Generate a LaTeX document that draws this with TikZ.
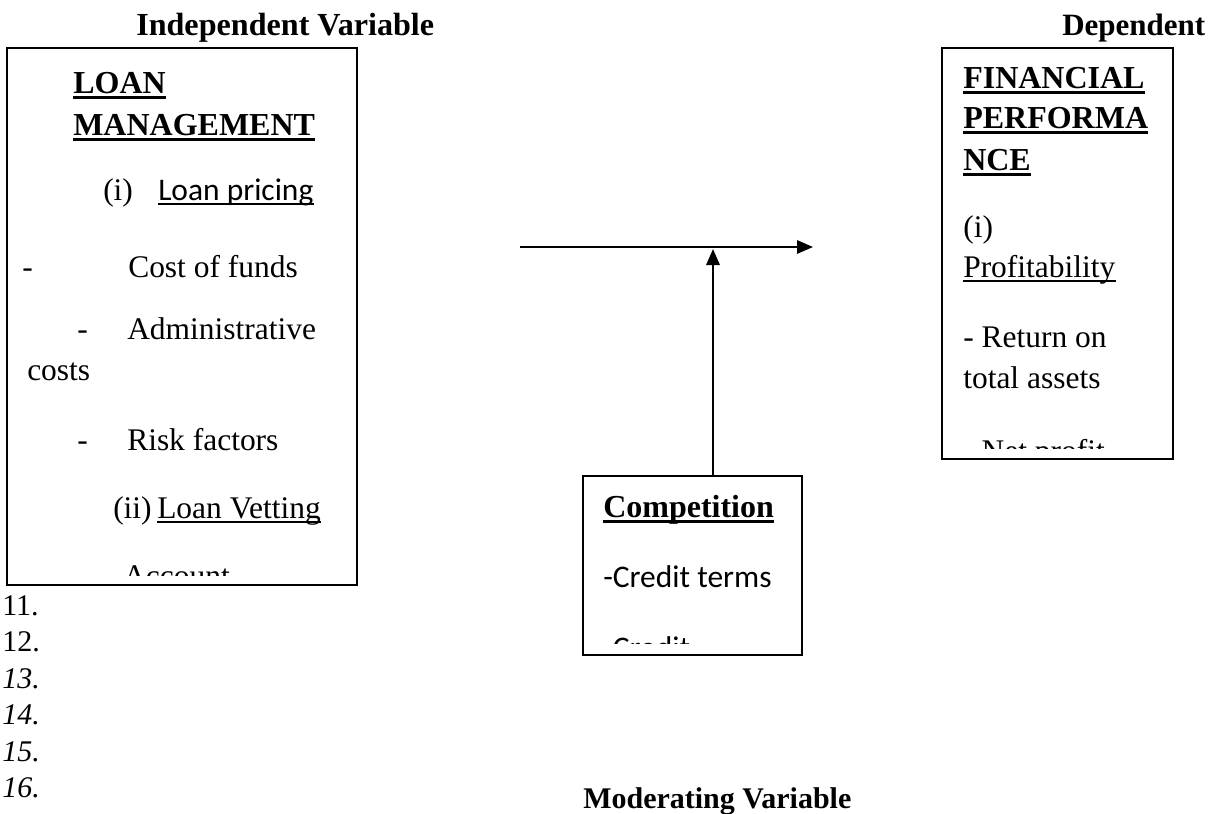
\documentclass[tikz,border=0pt]{standalone}
\usepackage{fontspec}
\setmainfont{Liberation Serif}
\newfontfamily\carl{Carlito}
\usetikzlibrary{arrows.meta,fit}
\tikzset{
  box/.style={draw, line width=1.5pt, inner sep=0pt},
  txt/.style={anchor=base west, inner sep=0pt, font=\fontsize{23.6}{28}\selectfont},
  btxt/.style={anchor=base west, inner sep=0pt, font=\fontsize{24}{28}\selectfont\bfseries},
  stxt/.style={anchor=base west, inner sep=0pt, font=\fontsize{23.6}{28}\selectfont\carl},
  ttl/.style={anchor=base west, inner sep=0pt, font=\fontsize{23.25}{28}\selectfont\bfseries},
  num/.style={anchor=base west, inner sep=0pt, font=\fontsize{22.5}{24}\selectfont},
  inum/.style={num, font=\fontsize{22.5}{24}\selectfont\itshape},
  ulb/.style={line width=2.2pt},
  uln/.style={line width=1.5pt},
  arr/.style={line width=1.5pt, -{Triangle[length=12pt,width=10pt]}},
}
\newcommand\ulb[1]{\draw[ulb] ([yshift=-3.2pt]#1.base west) -- ([yshift=-3.2pt]#1.base east);}
\newcommand\uln[1]{\draw[uln] ([yshift=-2.8pt]#1.base west) -- ([yshift=-2.8pt]#1.base east);}
\begin{document}
\begin{tikzpicture}[x=0.75pt,y=-0.75pt]
\useasboundingbox (0,0) rectangle (1218,814);

% titles
\node[ttl, font=\fontsize{24.1}{28}\selectfont\bfseries] (tind) at (136,35) {Independent Variable};
\node[ttl] (tdep) at (1062,35) {Dependent};
\node[ttl, font=\fontsize{22.5}{27}\selectfont\bfseries] (tmod) at (583,808) {Moderating Variable};

% boxes
\node[box, fit={(7,48)(357,585)}] (loan) {};
\node[box, fit={(942,48)(1173,459)}] (fin) {};
\node[box, fit={(583,476)(802,655)}] (comp) {};

% left box text
\begin{scope}
\clip (7,48) rectangle (357,575);
\node[btxt] (l1) at (73,93) {LOAN};
\node[btxt] (l2) at (73,135) {MANAGEMENT};
\node[txt] (l3a) at (103,200) {(i)};
\node[stxt] (l3b) at (158,200) {Loan pricing};
\node[txt] (l4a) at (22,277) {-};
\node[txt] (l4b) at (128,277) {Cost of funds};
\node[txt] (l5a) at (77,339) {-};
\node[txt] (l5b) at (127,339) {Administrative};
\node[txt] (l6) at (27,380) {costs};
\node[txt] (l7a) at (77,450) {-};
\node[txt] (l7b) at (127,450) {Risk factors};
\node[txt] (l8a) at (113,518) {(ii)};
\node[txt] (l8b) at (157,518) {Loan Vetting};
\node[txt] (l9) at (123,586) {Account};
\ulb{l1} \ulb{l2} \uln{l3b} \uln{l8b}
\end{scope}

% right box text
\begin{scope}
\clip (942,48) rectangle (1173,448);
\node[btxt] (r1) at (963,88) {FINANCIAL};
\node[btxt] (r2) at (963,128) {PERFORMA};
\node[btxt] (r3) at (963,170) {NCE};
\node[txt] (r4) at (963,237) {(i)};
\node[txt] (r5) at (963,277) {Profitability};
\node[txt] (r6) at (963,347) {- Return on};
\node[txt] (r7) at (963,388) {total assets};
\node[txt] (r8) at (963,461) {- Net profit};
\ulb{r1} \ulb{r2} \ulb{r3} \uln{r5}
\end{scope}

% competition box text
\begin{scope}
\clip (583,476) rectangle (802,643);
\node[btxt] (c1) at (603,517) {Competition};
\node[stxt] (c2) at (603,587) {-Credit terms};
\node[stxt] (c3) at (603,658) {-Credit};
\ulb{c1}
\end{scope}

% numbers
\node[num] (n11) at (2,615) {11.};
\node[num] (n12) at (2,651) {12.};
\node[inum] (n13) at (2,688) {13.};
\node[inum] (n14) at (2,724) {14.};
\node[inum] (n15) at (2,761) {15.};
\node[inum] (n16) at (2,797) {16.};

% arrows
\coordinate (hs) at (520,247);
\coordinate (he) at (813,247);
\coordinate (vt) at (713,249);
\draw[arr] (hs) -- (he);
\draw[arr] (vt |- comp.north) -- (vt);
\end{tikzpicture}
\end{document}
